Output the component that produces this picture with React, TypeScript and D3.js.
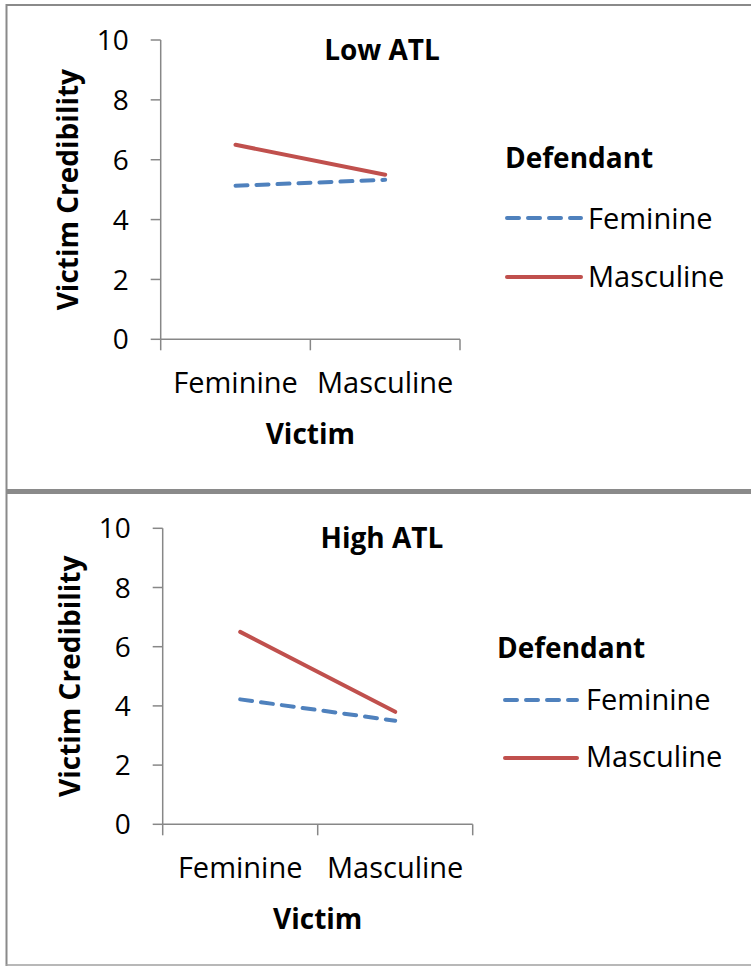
import React from 'react';
import * as d3 from 'd3';

const categories = ['Feminine', 'Masculine'];
const yTicks = [0, 2, 4, 6, 8, 10];
const seriesNames = ['Feminine', 'Masculine'];

// Low ATL panel
const lowFeminine = [5.13, 5.33];
const lowMasculine = [6.5, 5.5];
// High ATL panel
const highFeminine = [4.22, 3.5];
const highMasculine = [6.5, 3.8];

const BLUE = '#4f81bd';
const RED = '#c0504d';
const AXIS = '#878787';
const FONT = '"Open Sans", "DejaVu Sans", sans-serif';

interface PanelProps {
  title: string;
  feminine: number[];
  masculine: number[];
  left: number;
  right: number;
  top: number;
  bottom: number;
  legend: { x: number; y: number; lineX: number; lineW: number; rows: number[]; textX: number; texts: number[] };
}

const Panel: React.FC<PanelProps> = ({ title, feminine, masculine, left, right, top, bottom, legend }) => {
  const x = d3.scaleBand<string>().domain(categories).range([left, right]);
  const y = d3.scaleLinear().domain([0, 10]).range([bottom, top]);
  const line = d3.line<number>()
    .x((_, i) => (x(categories[i]) || 0) + x.bandwidth() / 2)
    .y(d => y(d));

  const edges = [left, ...categories.map(c => (x(c) || 0) + x.bandwidth())];

  return (
    <g fontFamily={FONT}>
      {/* y axis */}
      <line x1={left} x2={left} y1={top} y2={bottom} stroke={AXIS} strokeWidth={1.5} />
      {yTicks.map(t => (
        <g key={t}>
          <line x1={left - 10} x2={left} y1={y(t)} y2={y(t)} stroke={AXIS} strokeWidth={1.5} />
          <text x={left - 32} y={y(t)} dy="0.36em" textAnchor="end" fontSize={28} fill="#000">{t}</text>
        </g>
      ))}
      {/* x axis */}
      <line x1={left} x2={right} y1={bottom} y2={bottom} stroke={AXIS} strokeWidth={1.5} />
      {edges.map((e, i) => (
        <line key={i} x1={e} x2={e} y1={bottom} y2={bottom + 11} stroke={AXIS} strokeWidth={1.5} />
      ))}
      {categories.map(c => (
        <text key={c} x={(x(c) || 0) + x.bandwidth() / 2} y={bottom + 54} textAnchor="middle" fontSize={29} fill="#000">{c}</text>
      ))}
      <text x={(left + right) / 2} y={bottom + 105} textAnchor="middle" fontSize={28} fontWeight="bold" fill="#000">Victim</text>
      <text transform={`translate(${left - 83},${(top + bottom) / 2}) rotate(-90)`} textAnchor="middle" fontSize={28} fontWeight="bold" fill="#000">Victim Credibility</text>
      <text x={382} y={top + 20} textAnchor="middle" fontSize={28} fontWeight="bold" fill="#000">{title}</text>

      {/* series */}
      <path d={line(masculine) || ''} fill="none" stroke={RED} strokeWidth={4} strokeLinecap="round" />
      <path d={line(feminine) || ''} fill="none" stroke={BLUE} strokeWidth={4} strokeDasharray="12,9" strokeLinecap="round" />

      {/* legend */}
      <text x={legend.x} y={legend.y} fontSize={28} fontWeight="bold" fill="#000">Defendant</text>
      {seriesNames.map((s, i) => (
        <g key={s}>
          <line x1={legend.lineX} x2={legend.lineX + legend.lineW} y1={legend.rows[i]} y2={legend.rows[i]}
            stroke={i === 0 ? BLUE : RED} strokeWidth={4} strokeLinecap="round"
            strokeDasharray={i === 0 ? '12,9' : undefined} />
          <text x={legend.textX} y={legend.texts[i]} fontSize={29} fill="#000">{s}</text>
        </g>
      ))}
    </g>
  );
};

export default function App() {
  return (
    <svg width={751} height={966} style={{ position: 'absolute', left: 0, top: 0, background: '#fff' }}>
      <rect x={0} y={0} width={751} height={966} fill="#fff" />
      {/* frames */}
      <line x1={6} x2={751} y1={5} y2={5} stroke="#8a8a8a" strokeWidth={2} />
      <line x1={6.5} x2={6.5} y1={4} y2={966} stroke="#8a8a8a" strokeWidth={2} />
      <line x1={6} x2={751} y1={491.5} y2={491.5} stroke="#8a8a8a" strokeWidth={5} />
      <line x1={6} x2={751} y1={965} y2={965} stroke="#a0a0a0" strokeWidth={1.5} />

      <Panel title="Low ATL" feminine={lowFeminine} masculine={lowMasculine}
        left={160.7} right={460} top={40} bottom={339.3}
        legend={{ x: 505, y: 168, lineX: 507, lineW: 74, rows: [218, 277], textX: 588, texts: [229, 287] }} />
      <Panel title="High ATL" feminine={highFeminine} masculine={highMasculine}
        left={162.7} right={472.7} top={528.3} bottom={824.3}
        legend={{ x: 497, y: 658, lineX: 505, lineW: 72, rows: [700, 758], textX: 586, texts: [710, 767] }} />
    </svg>
  );
}
